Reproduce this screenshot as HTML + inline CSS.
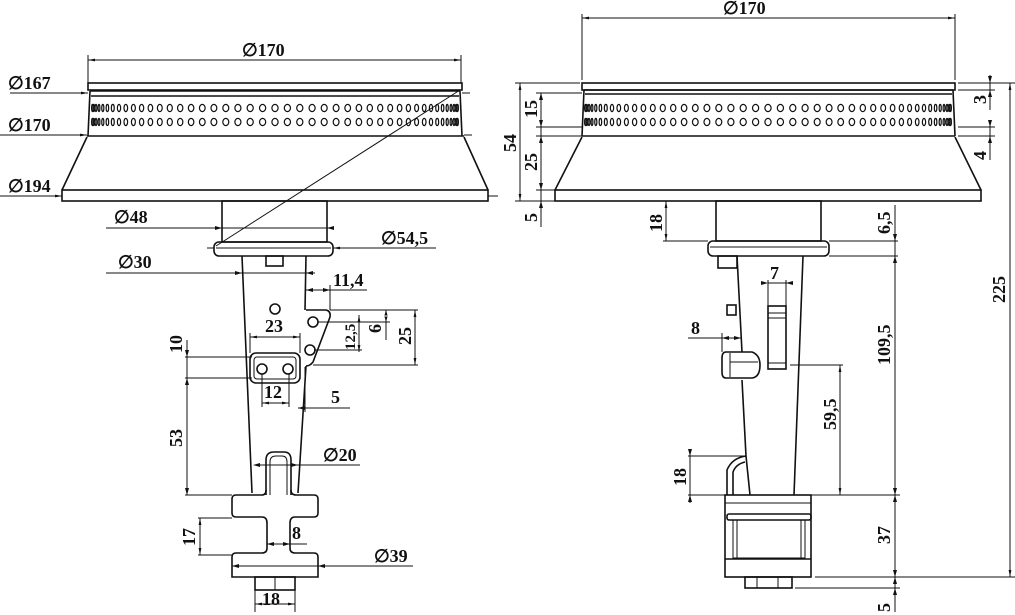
<!DOCTYPE html>
<html><head><meta charset="utf-8"><style>
html,body{margin:0;padding:0;background:#fff}
svg{display:block}
text{font-family:"Liberation Serif",serif;font-weight:bold;font-size:18px;fill:#111}
.l{stroke:#111;stroke-width:1.6;fill:none}
.t{stroke:#111;stroke-width:1;fill:none}
.h{stroke:#111;stroke-width:1.2;fill:none}
</style></head><body>
<svg id="s" width="1015" height="615" viewBox="0 0 1015 615" xmlns="http://www.w3.org/2000/svg">
<defs><marker id="a" viewBox="0 0 10 10" refX="10" refY="5" markerWidth="7" markerHeight="7" orient="auto-start-reverse"><path d="M0,3 L10,5 L0,7z" fill="#111"/></marker></defs>

<!-- ===== LEFT VIEW ===== -->
<line class="t" x1="88" y1="60" x2="461" y2="60" marker-start="url(#a)" marker-end="url(#a)"/>
<line class="t" x1="88" y1="55" x2="88" y2="83"/><line class="t" x1="461" y1="55" x2="461" y2="83"/>
<text x="242" y="56">∅170</text>
<rect class="l" x="88" y="83" width="374" height="7"/>
<path class="l" d="M90,91 L460,91 M91,96 L459,96 M90,91 L88,136 M460,91 L462,136 M87,136 L464,136 M87,137 L62,190 M464,137 L488,190"/>
<rect class="l" x="62" y="190" width="426" height="11"/>
<line class="t" x1="10" y1="93" x2="88" y2="93" marker-end="url(#a)"/>
<line class="t" x1="462" y1="93" x2="470" y2="93"/>
<text x="8" y="89">∅167</text>
<line class="t" x1="0" y1="135" x2="87" y2="135" marker-end="url(#a)"/>
<line class="t" x1="464" y1="135" x2="472" y2="135"/>
<text x="8" y="131">∅170</text>
<line class="t" x1="0" y1="196" x2="62" y2="196" marker-end="url(#a)"/>
<line class="t" x1="488" y1="196" x2="498" y2="196"/>
<text x="8" y="192">∅194</text>
<g id="holesL"></g>
<rect class="l" x="222" y="201" width="105" height="41"/>
<line class="t" x1="106" y1="228" x2="333" y2="228"/>
<path d="M222,228 l-7,-2 v4z M327,228 l7,-2 v4z" fill="#111"/>
<text x="114" y="223">∅48</text>
<rect class="l" x="214" y="242" width="119" height="14" rx="5"/>
<line class="t" x1="216" y1="248" x2="331" y2="248"/>
<line class="t" x1="207" y1="248" x2="214" y2="248"/>
<line class="t" x1="333" y1="248" x2="436" y2="248" marker-start="url(#a)"/>
<text x="381" y="244">∅54,5</text>
<line class="t" x1="460" y1="90" x2="216" y2="246"/>
<!-- stem -->
<path class="l" d="M242,256 L252,493 M306,256 L305,310 M306,366 L298,493"/>
<rect class="l" x="266" y="256" width="17" height="10"/>
<line class="t" x1="106" y1="273" x2="315" y2="273"/>
<path d="M242,273 l-7,-2 v4z M306,273 l7,-2 v4z" fill="#111"/>
<text x="118" y="268">∅30</text>
<path class="l" d="M306,310 L326,310 Q331,311 330,317 L313,362 Q310,366 306,366"/>
<circle class="l" cx="313" cy="322" r="5"/><circle class="l" cx="310" cy="350" r="5"/>
<circle class="l" cx="275" cy="309" r="5"/>
<rect class="l" x="250" y="353" width="50" height="30" rx="6"/>
<rect class="t" x="254" y="357" width="42" height="22" rx="3"/>
<circle class="l" cx="262" cy="369" r="5"/><circle class="l" cx="288" cy="369" r="5"/>
<line class="t" x1="250" y1="337" x2="300" y2="337" marker-start="url(#a)" marker-end="url(#a)"/>
<line class="t" x1="250" y1="333" x2="250" y2="353"/><line class="t" x1="300" y1="333" x2="300" y2="353"/>
<text x="265" y="332">23</text>
<line class="t" x1="185" y1="357" x2="252" y2="357"/><line class="t" x1="185" y1="378" x2="252" y2="378"/>
<line class="t" x1="187" y1="340" x2="187" y2="495"/>
<path d="M187,357 l-2,-7 h4z M187,378 l-2,7 h4z M187,495 l-2,-7 h4z" fill="#111"/>
<text transform="translate(182,353) rotate(-90)">10</text>
<text transform="translate(182,447) rotate(-90)">53</text>
<line class="t" x1="185" y1="495" x2="232" y2="495"/>
<line class="t" x1="262" y1="403" x2="289" y2="403" marker-start="url(#a)" marker-end="url(#a)"/>
<line class="t" x1="262" y1="374" x2="262" y2="407"/><line class="t" x1="289" y1="374" x2="289" y2="407"/>
<text x="264" y="398">12</text>
<line class="t" x1="306" y1="290" x2="367" y2="290"/>
<path d="M306,290 l7,-2 v4z M330,290 l-7,-2 v4z" fill="#111"/>
<line class="t" x1="330" y1="285" x2="330" y2="310"/>
<text x="333" y="286">11,4</text>
<line class="t" x1="330" y1="310" x2="418" y2="310"/><line class="t" x1="313" y1="365" x2="418" y2="365"/>
<line class="t" x1="415" y1="310" x2="415" y2="365" marker-start="url(#a)" marker-end="url(#a)"/>
<text transform="translate(411,345) rotate(-90)">25</text>
<line class="t" x1="318" y1="322" x2="390" y2="322"/>
<line class="t" x1="386" y1="310" x2="386" y2="340"/>
<path d="M386,310 l-2,7 h4z M386,322 l-2,-7 h4z" fill="#111"/>
<text transform="translate(381,333) rotate(-90)">6</text>
<line class="t" x1="314" y1="350" x2="362" y2="350"/>
<line class="t" x1="359" y1="315" x2="359" y2="352" marker-start="url(#a)" marker-end="url(#a)"/>
<text transform="translate(355,350) rotate(-90)" style="font-size:15px">12,5</text>
<line class="t" x1="305" y1="367" x2="305" y2="412"/>
<line class="t" x1="298" y1="408" x2="350" y2="408"/>
<path d="M298,408 l7,-2 v4z" fill="#111"/>
<text x="331" y="403">5</text>
<!-- lower -->
<path class="l" d="M266,495 L266,460 Q266,452 274,452 L284,452 Q291,452 291,460 L291,495"/>
<path class="t" d="M270,495 L270,462 Q270,456 276,456 L282,456 Q287,456 287,462 L287,495"/>
<line class="t" x1="255" y1="465" x2="360" y2="465"/>
<path d="M253,465 l7,-2 v4z M298,465 l-7,-2 v4z" fill="#111"/>
<text x="323" y="461">∅20</text>
<path class="l" d="M236,495 L262,495 Q266,495 266,490 M291,490 Q291,495 296,495 L314,495 Q318,495 318,499 L318,513 Q318,517 314,517 L295,517 Q290,517 290,523 L290,548 Q290,553 295,553 L314,553 Q318,553 318,557 L318,577 L232,577 L232,557 Q232,553 236,553 L262,553 Q267,553 267,548 L267,523 Q267,517 262,517 L236,517 Q232,517 232,513 L232,499 Q232,495 236,495"/>
<line class="t" x1="198" y1="518" x2="232" y2="518"/><line class="t" x1="198" y1="555" x2="232" y2="555"/>
<line class="t" x1="200" y1="518" x2="200" y2="555" marker-start="url(#a)" marker-end="url(#a)"/>
<text transform="translate(195,546) rotate(-90)">17</text>
<line class="t" x1="267" y1="544" x2="307" y2="544"/>
<path d="M267,544 l7,-2 v4z M290,544 l-7,-2 v4z" fill="#111"/>
<text x="292" y="539">8</text>
<line class="t" x1="232" y1="566" x2="413" y2="566"/>
<path d="M232,566 l7,-2 v4z M318,566 l7,-2 v4z" fill="#111"/>
<text x="374" y="562">∅39</text>
<rect class="l" x="255" y="577" width="40" height="13"/><line class="t" x1="275" y1="577" x2="275" y2="590"/>
<line class="t" x1="255" y1="590" x2="255" y2="612"/><line class="t" x1="295" y1="590" x2="295" y2="612"/>
<line class="t" x1="255" y1="604" x2="295" y2="604" marker-start="url(#a)" marker-end="url(#a)"/>
<text x="262" y="605">18</text>

<!-- ===== RIGHT VIEW ===== -->
<line class="t" x1="582" y1="18" x2="955" y2="18" marker-start="url(#a)" marker-end="url(#a)"/>
<line class="t" x1="582" y1="14" x2="582" y2="80"/><line class="t" x1="955" y1="14" x2="955" y2="80"/>
<text x="723" y="14">∅170</text>
<rect class="l" x="582" y="83" width="373" height="7"/>
<path class="l" d="M584,90 L953,90 M585,94 L952,94 M584,90 L582,136 M953,90 L955,136 M582,136 L955,136 M582,137 L555,190 M955,137 L981,190"/>
<rect class="l" x="555" y="190" width="426" height="11"/>
<g id="holesR"></g>
<rect class="l" x="716" y="201" width="105" height="40"/>
<rect class="l" x="708" y="241" width="121" height="15" rx="5"/>
<line class="t" x1="710" y1="247" x2="827" y2="247"/>
<!-- stem right -->
<path class="l" d="M737,256 L742,352 M742,380 L746,456 M803,256 L794,495"/>
<rect class="l" x="718" y="256" width="19" height="12"/>
<rect class="l" x="727" y="305" width="9" height="10"/>
<path class="l" d="M726,352 L752,352 Q760,355 760,365 Q760,377 752,378 L726,378 Q722,378 722,372 L722,358 Q722,352 726,352"/>
<line class="t" x1="730" y1="353" x2="730" y2="377"/><line class="t" x1="730" y1="362" x2="758" y2="362"/>
<rect class="l" x="768" y="306" width="18" height="63"/>
<line class="t" x1="768" y1="313" x2="786" y2="313"/><line class="t" x1="768" y1="318" x2="786" y2="318"/><line class="t" x1="768" y1="363" x2="786" y2="363"/>
<path class="l" d="M746,456 Q732,458 727,470 L727,495 M746,456 L750,495 M733,495 L733,472 Q736,464 745,462"/>
<rect class="l" x="725" y="495" width="86" height="82"/>
<line class="t" x1="725" y1="503" x2="811" y2="503"/>
<rect class="l" x="727" y="514" width="84" height="6" rx="2"/>
<rect class="t" x="733" y="520" width="72" height="38"/>
<line class="t" x1="737" y1="520" x2="737" y2="558"/><line class="t" x1="801" y1="520" x2="801" y2="558"/>
<line class="l" x1="725" y1="559" x2="811" y2="559"/>
<rect class="l" x="745" y="577" width="47" height="11"/>
<line class="t" x1="757" y1="577" x2="757" y2="588"/><line class="t" x1="778" y1="577" x2="778" y2="588"/>
<!-- dims right -->
<line class="t" x1="768" y1="283" x2="790" y2="283"/>
<path d="M768,283 l-7,-2 v4z M786,283 l7,-2 v4z" fill="#111"/>
<line class="t" x1="768" y1="280" x2="768" y2="306"/><line class="t" x1="786" y1="280" x2="786" y2="306"/>
<text x="770" y="279">7</text>
<line class="t" x1="688" y1="338" x2="741" y2="338"/>
<path d="M722,338 l7,-2 v4z M741,338 l-7,-2 v4z" fill="#111"/>
<line class="t" x1="722" y1="333" x2="722" y2="352"/>
<text x="691" y="334">8</text>
<line class="t" x1="790" y1="365" x2="843" y2="365"/>
<line class="t" x1="840" y1="365" x2="840" y2="495" marker-start="url(#a)" marker-end="url(#a)"/>
<text transform="translate(836,430) rotate(-90)">59,5</text>
<line class="t" x1="688" y1="456" x2="746" y2="456"/><line class="t" x1="688" y1="495" x2="725" y2="495"/>
<line class="t" x1="690" y1="450" x2="690" y2="503"/>
<path d="M690,456 l-2,-7 h4z M690,495 l-2,7 h4z" fill="#111"/>
<text transform="translate(686,486) rotate(-90)">18</text>
<line class="t" x1="663" y1="241" x2="708" y2="241"/>
<line class="t" x1="666" y1="201" x2="666" y2="241" marker-start="url(#a)" marker-end="url(#a)"/>
<text transform="translate(662,232) rotate(-90)">18</text>
<line class="t" x1="829" y1="241" x2="898" y2="241"/><line class="t" x1="829" y1="256" x2="898" y2="256"/>
<line class="t" x1="811" y1="495" x2="900" y2="495"/><line class="t" x1="815" y1="577" x2="1015" y2="577"/>
<line class="t" x1="795" y1="588" x2="900" y2="588"/>
<line class="t" x1="895" y1="205" x2="895" y2="612"/>
<path d="M895,241 l-2,-7 h4z M895,256 l-2,7 h4z M895,495 l-2,-7 h4z M895,495 l-2,7 h4z M895,577 l-2,-7 h4z M895,577 l-2,7 h4z M895,588 l-2,7 h4z" fill="#111"/>
<text transform="translate(890,234) rotate(-90)">6,5</text>
<text transform="translate(890,365) rotate(-90)">109,5</text>
<text transform="translate(890,544) rotate(-90)">37</text>
<text transform="translate(890,612) rotate(-90)">5</text>
<line class="t" x1="958" y1="83" x2="1015" y2="83"/>
<line class="t" x1="1010" y1="83" x2="1010" y2="577" marker-start="url(#a)" marker-end="url(#a)"/>
<text transform="translate(1005,303) rotate(-90)">225</text>
<line class="t" x1="958" y1="90" x2="995" y2="90"/><line class="t" x1="958" y1="127" x2="995" y2="127"/><line class="t" x1="958" y1="136" x2="995" y2="136"/>
<line class="t" x1="990" y1="75" x2="990" y2="110"/><line class="t" x1="990" y1="120" x2="990" y2="160"/>
<path d="M990,83 l-2,-7 h4z M990,90 l-2,7 h4z M990,127 l-2,-7 h4z M990,136 l-2,7 h4z" fill="#111"/>
<text transform="translate(986,104) rotate(-90)">3</text>
<text transform="translate(986,160) rotate(-90)">4</text>
<line class="t" x1="515" y1="83" x2="580" y2="83"/><line class="t" x1="536" y1="93" x2="582" y2="93"/>
<line class="t" x1="536" y1="127" x2="582" y2="127"/><line class="t" x1="536" y1="136" x2="582" y2="136"/>
<line class="t" x1="536" y1="190" x2="555" y2="190"/><line class="t" x1="515" y1="201" x2="555" y2="201"/>
<line class="t" x1="520" y1="83" x2="520" y2="201" marker-start="url(#a)" marker-end="url(#a)"/>
<text transform="translate(516,152) rotate(-90)">54</text>
<line class="t" x1="541" y1="93" x2="541" y2="227"/>
<path d="M541,93 l-2,7 h4z M541,127 l-2,-7 h4z M541,136 l-2,7 h4z M541,190 l-2,-7 h4z M541,201 l-2,7 h4z" fill="#111"/>
<text transform="translate(537,118) rotate(-90)">15</text>
<text transform="translate(537,171) rotate(-90)">25</text>
<text transform="translate(537,222) rotate(-90)">5</text>
</svg>
<script>
function holes(id,cx,R,ys){var g=document.getElementById(id),s='';
for(var k=0;k<ys.length;k++){for(var i=-22;i<=22;i++){var th=i*3.9*Math.PI/180;var x=cx+R*Math.sin(th);var rx=Math.max(0.9,3.1*Math.cos(th));
s+='<ellipse cx="'+x.toFixed(1)+'" cy="'+ys[k]+'" rx="'+rx.toFixed(2)+'" ry="3.6" fill="none" stroke="#111" stroke-width="1.2"/>';}}
g.innerHTML=s;}
holes('holesL',275,183,[108,122]);
holes('holesR',768,183,[108,122]);
</script>
</body></html>
